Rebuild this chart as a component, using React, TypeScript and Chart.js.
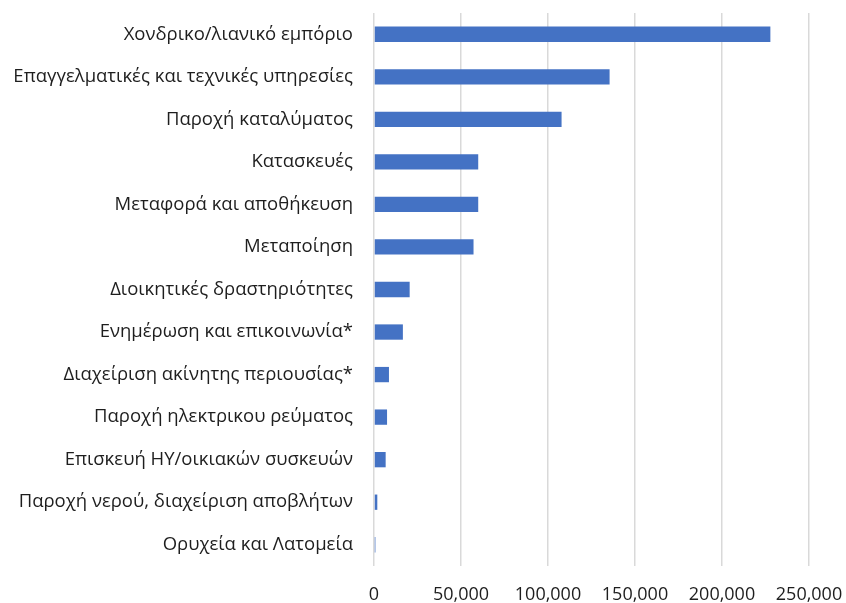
import React, { useEffect, useRef } from "react";
import { Chart, registerables } from "chart.js";

Chart.register(...registerables);

const categories: string[] = [
  "Χονδρικο/λιανικό εμπόριο",
  "Επαγγελματικές και τεχνικές υπηρεσίες",
  "Παροχή καταλύματος",
  "Κατασκευές",
  "Μεταφορά και αποθήκευση",
  "Μεταποίηση",
  "Διοικητικές δραστηριότητες",
  "Ενημέρωση και επικοινωνία*",
  "Διαχείριση ακίνητης περιουσίας*",
  "Παροχή ηλεκτρικου ρεύματος",
  "Επισκευή ΗΥ/οικιακών συσκευών",
  "Παροχή νερού, διαχείριση αποβλήτων",
  "Ορυχεία και Λατομεία",
];

const values: number[] = [
  227800, 135400, 107800, 59900, 59900, 57200, 20500, 16600, 8600, 7500, 6700, 1900, 800,
];

const xMin = 0;
const xMax = 250000;
const xStep = 50000;

export default function App() {
  const ref = useRef<HTMLCanvasElement | null>(null);

  useEffect(() => {
    if (!ref.current) return;
    const font = "'Open Sans', 'Noto Sans', sans-serif";
    const chart = new Chart(ref.current, {
      type: "bar",
      data: {
        labels: categories,
        datasets: [
          {
            data: values,
            backgroundColor: "#4472C4",
            borderWidth: 0,
            barPercentage: 0.36,
            categoryPercentage: 1,
          },
        ],
      },
      options: {
        indexAxis: "y",
        animation: false,
        responsive: false,
        maintainAspectRatio: false,
        layout: { padding: { top: 13, right: 37, left: 0, bottom: 0 } },
        plugins: {
          legend: { display: false },
          tooltip: { enabled: false },
        },
        scales: {
          x: {
            min: xMin,
            max: xMax,
            ticks: {
              stepSize: xStep,
              color: "#1e1e1e",
              font: { family: font, size: 18 },
              padding: 18,
              maxRotation: 0,
              callback: (v: any) => Number(v).toLocaleString("en-US"),
            },
            grid: { color: "#d9d9d9", lineWidth: 1.5, drawTicks: false },
            border: { display: false },
            afterFit: (s: any) => {
              s.height = 37;
              s.paddingLeft = 0;
              s.paddingRight = 0;
            },
          },
          y: {
            ticks: {
              color: "#1e1e1e",
              font: { family: font, size: 18.5 },
              padding: 21,
              autoSkip: false,
            },
            grid: { display: false, drawTicks: false },
            border: { display: false },
            afterFit: (s: any) => {
              s.width = 374;
              s.paddingTop = 0;
              s.paddingBottom = 0;
            },
          },
        },
      },
    });
    return () => chart.destroy();
  }, []);

  return (
    <div style={{ position: "fixed", left: 0, top: 0, width: 846, height: 603, background: "#fff" }}>
      <canvas ref={ref} width={846} height={603} />
    </div>
  );
}
